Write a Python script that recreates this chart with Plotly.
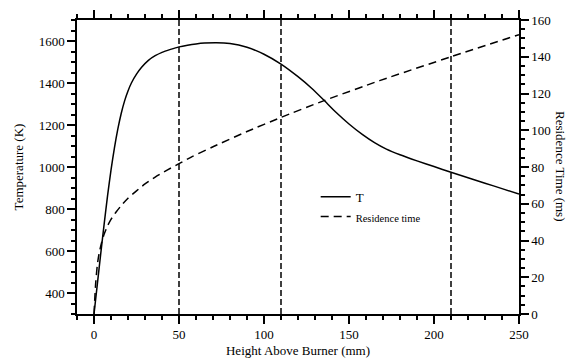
import plotly.graph_objects as go

# Temperature profile (K) vs height above burner (mm)
t_height = [0, 2, 4, 6, 8, 10, 12, 14, 16, 18, 20, 22, 25, 28, 32, 36, 40, 45, 50, 55, 60,
            65, 72, 80, 90, 100, 110, 120, 128, 135, 142, 150, 158, 165, 172, 180, 190,
            200, 210, 220, 230, 240, 250]
temperature = [300, 445, 590, 730, 865, 985, 1090, 1180, 1255, 1315, 1362, 1400, 1442,
               1475, 1508, 1530, 1546, 1560, 1572, 1580, 1586, 1590, 1592, 1588, 1570,
               1537, 1490, 1430, 1375, 1320, 1263, 1205, 1154, 1116, 1085, 1058, 1029,
               1002, 975, 949, 923, 897, 871]

# Residence time (ms) vs height above burner (mm)
r_height = [0, 1, 2, 3, 4.5, 6, 8, 10, 13, 16, 20, 25, 30, 36, 43, 50, 58, 70, 90, 110,
            135, 168, 210, 250]
residence = [0, 17, 27, 33, 39, 43.5, 48, 51.5, 55.5, 59, 63, 67, 70.8, 74.5, 78.3, 81.8,
             85.8, 91, 99.3, 107, 116, 127, 140, 152]

# Sampling heights (mm)
sample_heights = [50, 110, 210]

FONT = "Liberation Serif"

fig = go.Figure()
fig.add_trace(go.Scatter(x=t_height, y=temperature, mode="lines", name="T",
                         line=dict(color="black", width=1.5, shape="spline", smoothing=0.6)))
fig.add_trace(go.Scatter(x=r_height, y=residence, mode="lines", yaxis="y2",
                         name="<span style='font-size:10.5px'>Residence time</span>",
                         line=dict(color="black", width=1.5, dash="8px,5px",
                                   shape="spline", smoothing=0.6)))

for h in sample_heights:
    fig.add_vline(x=h, line=dict(color="black", width=1.5, dash="6px,3px"))

axis_common = dict(showgrid=False, zeroline=False, showline=True, linecolor="black",
                   linewidth=1.5, ticks="outside", ticklen=8, tickwidth=1.5,
                   tickcolor="black", automargin=False,
                   tickfont=dict(family=FONT, size=13, color="black"))

fig.update_layout(
    width=568, height=360,
    margin=dict(l=77, r=49, t=20, b=46),
    paper_bgcolor="white", plot_bgcolor="white",
    font=dict(family=FONT, size=13, color="black"),
    showlegend=True,
    legend=dict(x=0.54, y=0.45, xanchor="left", yanchor="top",
                bgcolor="rgba(0,0,0,0)", font=dict(family=FONT, size=13),
                tracegroupgap=0),
    xaxis=dict(range=[-10, 250], dtick=50, tick0=0, mirror="ticks",
               minor=dict(dtick=10, ticklen=4, tickwidth=1.5, ticks="outside",
                          tickcolor="black"),
               title=dict(text="Height Above Burner (mm)", standoff=5,
                          font=dict(family=FONT, size=13)),
               **axis_common),
    yaxis=dict(range=[300, 1700], dtick=200, tick0=0,
               minor=dict(dtick=50, ticklen=4, tickwidth=1.5, ticks="outside",
                          tickcolor="black"),
               title=dict(text="Temperature (K)", standoff=12,
                          font=dict(family=FONT, size=13)),
               **axis_common),
    yaxis2=dict(range=[0, 160], dtick=20, tick0=0, overlaying="y", side="right",
                minor=dict(dtick=5, ticklen=4, tickwidth=1.5, ticks="outside",
                           tickcolor="black"),
                **axis_common),
    annotations=[dict(text="Residence Time (ms)", textangle=90, xref="paper", yref="paper",
                      x=1.095, y=0.5, xanchor="center", yanchor="middle", showarrow=False,
                      font=dict(family=FONT, size=13, color="black"))],
)

fig.write_html("out.html", config={"displayModeBar": False},
               post_script="document.body.style.margin='0';document.body.style.padding='0';")
